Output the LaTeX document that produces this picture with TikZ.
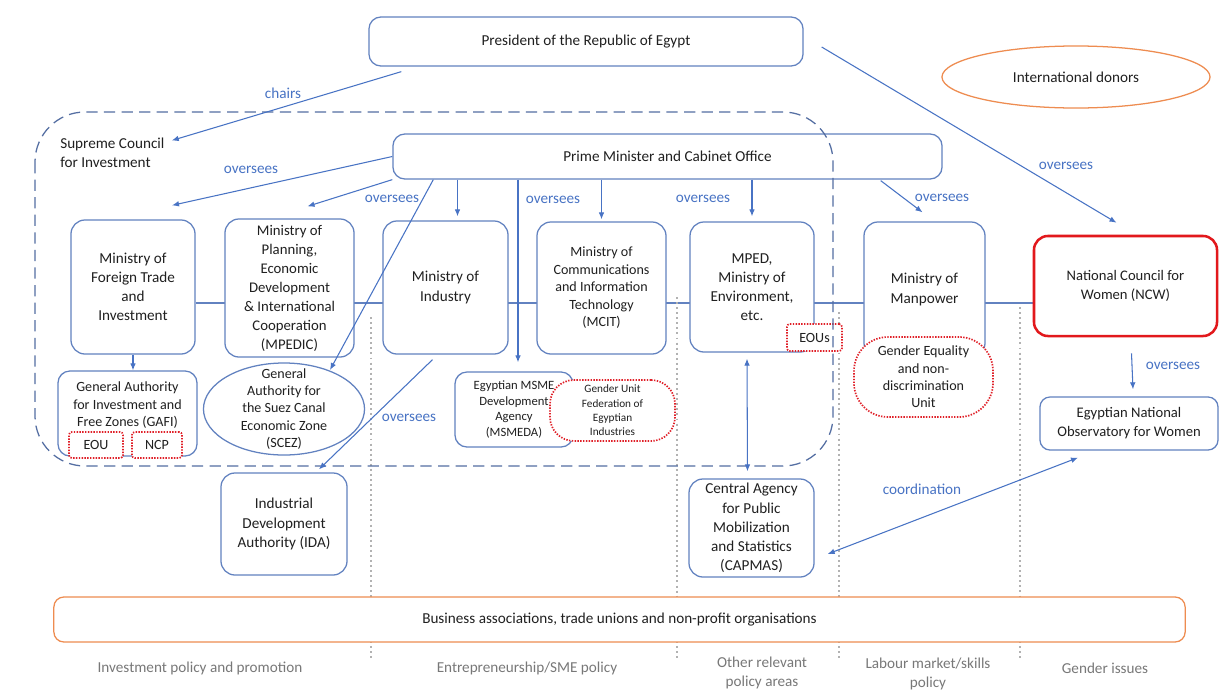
\documentclass[tikz,border=0pt]{standalone}
\usepackage{fontspec}
\setmainfont{Carlito}
\usetikzlibrary{calc,shapes.geometric,backgrounds,arrows.meta}

\definecolor{boxblue}{RGB}{98,130,192}
\definecolor{arrblue}{RGB}{72,115,196}
\definecolor{dashblue}{RGB}{84,110,162}
\definecolor{unitred}{RGB}{224,32,40}
\definecolor{ncwred}{RGB}{226,24,28}
\definecolor{civorange}{RGB}{238,140,80}
\definecolor{sepgray}{RGB}{178,178,178}
\definecolor{areagray}{RGB}{120,120,120}
\definecolor{txt}{RGB}{32,32,32}

\begin{document}
\begin{tikzpicture}[x=0.025cm,y=-0.025cm,auto,>={Latex[length=5pt,width=4pt]}]
       \tikzstyle{orgbox} = [rectangle, rounded corners=0.35cm, draw=boxblue, line width=0.9pt, fill=white, text=txt, align=center, inner sep=1pt, font=\fontsize{10.8}{13.6}\selectfont];
       \tikzstyle{smalltext} = [font=\fontsize{10}{12.4}\selectfont];
       \tikzstyle{unitbox} = [rectangle, rounded corners=2pt, draw=unitred, line width=1.2pt, dash pattern=on 1pt off 1pt, fill=white, text=txt, align=center, inner sep=1pt, font=\fontsize{10}{12.3}\selectfont];
       \tikzstyle{caption} = [text=txt, align=center, inner sep=0pt, font=\fontsize{10.8}{13.6}\selectfont];
       \tikzstyle{tag} = [text=arrblue, inner sep=0pt, font=\fontsize{10.8}{13}\selectfont];
       \tikzstyle{conn} = [draw=arrblue, line width=0.75pt, ->];
       \tikzstyle{policy} = [text=areagray, align=center, inner sep=0pt, font=\fontsize{10.8}{13.2}\selectfont];
       \tikzstyle{zone} = [draw=dashblue, line width=0.9pt, dash pattern=on 8pt off 4.5pt, rounded corners=1.25cm];
       \tikzstyle{sep} = [draw=sepgray, line width=0.8pt, dash pattern=on 1.4pt off 2.2pt];

       \useasboundingbox (0,0) rectangle (1219,692);

       % top of the government
       \node[orgbox, minimum width=10.85cm, minimum height=1.225cm, rounded corners=0.3cm] (president) at (586,41.5) {President of the Republic of Egypt};
       \node[ellipse, draw=civorange, line width=0.9pt, minimum width=6.7cm, minimum height=1.55cm, caption] (donors) at (1076,77) {International donors};
       \node[caption, anchor=west, align=left] (council) at (60,152.5) {Supreme Council\\for Investment};
       \node[orgbox, minimum width=13.725cm, minimum height=1.125cm, rounded corners=0.3cm] (pm) at (667.5,156.5) {Prime Minister and Cabinet Office};

       % ministries
       \node[orgbox, minimum width=3.1cm, minimum height=3.35cm] (mfti) at (133,287) {Ministry of\\Foreign Trade\\and\\Investment};
       \node[orgbox, minimum width=3.225cm, minimum height=3.45cm, font=\fontsize{10.5}{13.5}\selectfont] (mpedic) at (289.5,288) {Ministry of\\Planning,\\Economic\\Development\\\& International\\Cooperation\\(MPEDIC)};
       \node[orgbox, minimum width=3.125cm, minimum height=3.325cm] (industry) at (445.5,287.5) {Ministry of\\Industry};
       \node[orgbox, smalltext, minimum width=3.225cm, minimum height=3.3cm] (mcit) at (601.5,288) {Ministry of\\Communications\\and Information\\Technology\\(MCIT)};
       \node[orgbox, minimum width=3.1cm, minimum height=3.25cm] (mped) at (752,287) {MPED,\\Ministry of\\Environment,\\etc.};
       \node[orgbox, minimum width=3.025cm, minimum height=3.375cm] (manpower) at (924.5,289.5) {Ministry of\\Manpower};
       \node[orgbox, draw=ncwred, line width=1.8pt, minimum width=4.575cm, minimum height=2.5cm, font=\fontsize{10.4}{13.6}\selectfont] (ncw) at (1125.5,286) {National Council for\\Women (NCW)};

       % agencies and units
       \node[orgbox, minimum width=3.475cm, minimum height=2.125cm, rounded corners=0.3cm] (gafi) at (127.5,413.5) {};
       \node[caption, smalltext] (gafitext) at (127.5,405.5) {General Authority\\for Investment and\\Free Zones (GAFI)};
       \node[unitbox, minimum width=1.35cm, minimum height=0.65cm] (eou) at (96,445) {EOU};
       \node[unitbox, minimum width=1.25cm, minimum height=0.65cm] (ncp) at (157,445) {NCP};
       \node[ellipse, draw=boxblue, line width=0.9pt, fill=white, minimum width=4.025cm, minimum height=2.3cm] (scez) at (284,409) {};
       \node[caption, smalltext] (sceztext) at (284,409) {General\\Authority for\\the Suez Canal\\Economic Zone\\(SCEZ)};
       \node[orgbox, minimum width=2.95cm, minimum height=1.875cm, rounded corners=0.3cm, font=\fontsize{9}{11}\selectfont] (msmeda) at (514,409.5) {Egyptian MSME\\Development\\Agency\\(MSMEDA)};
       \node[unitbox, rounded corners=0.6cm, minimum width=3.125cm, minimum height=1.525cm, font=\fontsize{8}{10.2}\selectfont] (fei) at (612.5,410.5) {Gender Unit\\Federation of\\Egyptian\\Industries};
       \node[unitbox, minimum width=1.375cm, minimum height=0.675cm] (eous) at (814.5,337.5) {EOUs};
       \node[unitbox, rounded corners=0.85cm, minimum width=3.475cm, minimum height=2cm] (gendereq) at (923.5,377) {Gender Equality\\and non-\\discrimination\\Unit};
       \node[orgbox, smalltext, minimum width=4.45cm, minimum height=1.325cm, rounded corners=0.25cm, font=\fontsize{10.4}{13.6}\selectfont] (observatory) at (1129,423.5) {Egyptian National\\Observatory for Women};
       \node[orgbox, minimum width=3.15cm, minimum height=2.55cm] (ida) at (284,524) {Industrial\\Development\\Authority (IDA)};
       \node[orgbox, minimum width=3.125cm, minimum height=2.45cm] (capmas) at (751.5,528) {Central Agency\\for Public\\Mobilization\\and Statistics\\(CAPMAS)};
       \node[orgbox, draw=civorange, minimum width=28.275cm, minimum height=1.125cm, rounded corners=0.25cm] (civil) at (619.5,619.5) {Business associations, trade unions and non-profit organisations};

       % policy areas
       \node[policy] (invarea) at (200,668) {Investment policy and promotion};
       \node[policy] (smearea) at (527,668) {Entrepreneurship/SME policy};
       \node[policy] (otharea) at (762,673) {Other relevant\\policy areas};
       \node[policy] (labarea) at (928,674) {Labour market/skills\\policy};
       \node[policy] (genarea) at (1105,668) {Gender issues};

       \coordinate (spine) at (0,303);
       \begin{scope}[on background layer]
         \fill[white] (0,0) rectangle (1219,692);
         \draw[draw=boxblue, line width=0.9pt] (mfti.east |- spine) -- (ncw.west |- spine);
         \foreach \x/\y in {371/317,677/297,839/312,1020/307}
           \draw[sep] (\x,\y) -- (\x,660);
       \end{scope}

       \draw[zone] (35,112) rectangle (833,466);

       % who oversees whom
       \draw[conn] ($(president.south west)+(33,5)$) -- ($(council.east)+(7,-12)$);
       \draw[conn] (pm.west) -- ($(mfti.north)+(39,-14)$);
       \draw[conn] (pm.south west) -- ($(mpedic.north)+(18,-12)$);
       \draw[conn] ($(pm.south west)+(41,0)$) -- ($(scez)+(46,-39)$);
       \draw[conn] ($(industry.south)+(-13,5)$) -- ($(ida.north)+(35,-3)$);
       \coordinate (indtop) at ($(industry.north)+(12,-4)$);
       \coordinate (msmtop) at ($(msmeda.north)+(4,-9)$);
       \draw[conn] (pm.south -| indtop) -- (indtop);
       \draw[conn] (pm.south -| msmtop) -- (msmtop);
       \draw[conn] (pm.south -| mcit.north) -- ($(mcit.north)+(0,-2)$);
       \draw[conn] (pm.south -| mped.north) -- ($(mped.north)+(0,-5)$);
       \draw[conn] ($(pm.south east)+(-62,1)$) -- ($(manpower.north)+(-2,-9)$);
       \draw[conn] ($(president.east)+(18,5.5)$) -- ($(ncw.north)+(-9,-12)$);
       \draw[conn] ($(ncw.south)+(6,16)$) -- ($(observatory.north)+(4,-7)$);
       \draw[conn] (mfti.south) -- (mfti.south |- gafi.north);
       \draw[conn, <->] ($(mped.south)+(-5,6)$) -- ($(capmas.north)+(-4,-7)$);
       \draw[conn, <->] ($(capmas.east)+(13,26)$) -- ($(observatory.south)+(-51,7)$);

       \node[tag] (chairs) at (283,93) {chairs};
       \node[tag] (ovmfti) at (251,170) {oversees};
       \node[tag] (ovmpedic) at (392,199) {oversees};
       \node[tag] (ovmsmeda) at (553,200) {oversees};
       \node[tag] (ovmped) at (703,199) {oversees};
       \node[tag] (ovmanpower) at (942,198) {oversees};
       \node[tag] (ovncw) at (1066,166) {oversees};
       \node[tag] (ovobs) at (1173,366) {oversees};
       \node[tag] (ovida) at (409,418) {oversees};
       \node[tag] (coord) at (922,489) {coordination};
\end{tikzpicture}
\end{document}
